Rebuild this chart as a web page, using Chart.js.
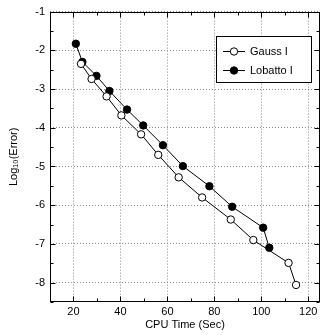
<!DOCTYPE html>
<html>
<head>
<meta charset="utf-8">
<script src="https://cdn.jsdelivr.net/npm/chart.js@4/dist/chart.umd.min.js"></script>
<style>
html,body{margin:0;padding:0;background:#fff;}
canvas{display:block;}
</style>
</head>
<body>
<canvas id="c" width="325" height="335"></canvas>
<script>
const seriesNames = ["Gauss I", "Lobatto I"];
const gaussX = [23.2, 27.7, 34.1, 40.4, 48.8, 56.1, 64.8, 74.8, 87.0, 96.6, 111.6, 114.8];
const gaussY = [-2.35, -2.74, -3.19, -3.68, -4.17, -4.70, -5.28, -5.80, -6.37, -6.90, -7.49, -8.06];
const lobattoX = [21.0, 23.8, 29.8, 35.3, 42.8, 49.7, 58.1, 66.6, 77.9, 87.6, 100.8, 103.4];
const lobattoY = [-1.83, -2.30, -2.66, -3.05, -3.53, -3.94, -4.45, -4.99, -5.51, -6.04, -6.58, -7.10];
const xTicks = [20, 40, 60, 80, 100, 120];
const xMinorTicks = [30, 50, 70, 90, 110];
const yTicks = [-1, -2, -3, -4, -5, -6, -7, -8];
const yMinorTicks = [-1.5, -2.5, -3.5, -4.5, -5.5, -6.5, -7.5, -8.5];
const xTitle = "CPU Time (Sec)";
const yTitle = "Log\u2081\u2080(Error)";

const FONT = "'Liberation Sans', Arial, Helvetica, sans-serif";

const toPts = (xs, ys) => xs.map((x, i) => ({x: x, y: ys[i]}));

const framePlugin = {
  id: 'frame',
  afterDatasetsDraw(chart) {
    const {ctx, chartArea: a, scales: {x, y}} = chart;
    ctx.save();
    ctx.strokeStyle = '#000';
    ctx.lineWidth = 1;
    ctx.setLineDash([]);
    ctx.beginPath();
    const L = Math.round(a.left) + 0.5, R = Math.round(a.right) - 0.5;
    const T = Math.round(a.top) + 0.5, B = Math.round(a.bottom) - 0.5;
    const tick = (v, len, horiz) => {
      if (horiz) {
        const p = Math.round(x.getPixelForValue(v)) + 0.5;
        ctx.moveTo(p, B); ctx.lineTo(p, B - len);
        ctx.moveTo(p, T); ctx.lineTo(p, T + len);
      } else {
        const p = Math.round(y.getPixelForValue(v)) + 0.5;
        ctx.moveTo(L, p); ctx.lineTo(L + len, p);
        ctx.moveTo(R, p); ctx.lineTo(R - len, p);
      }
    };
    xTicks.forEach(v => tick(v, 5, true));
    xMinorTicks.forEach(v => tick(v, 3, true));
    yTicks.forEach(v => tick(v, 5, false));
    yMinorTicks.forEach(v => tick(v, 3, false));
    ctx.stroke();
    ctx.strokeRect(L, T, R - L, B - T);
    ctx.restore();
  }
};

const legendPlugin = {
  id: 'boxLegend',
  afterDatasetsDraw(chart) {
    const {ctx} = chart;
    const bx = 216.5, by = 36.5, bw = 95, bh = 46;
    ctx.save();
    ctx.fillStyle = '#fff';
    ctx.fillRect(bx, by, bw, bh);
    ctx.strokeStyle = '#000';
    ctx.lineWidth = 1;
    ctx.setLineDash([]);
    ctx.strokeRect(bx, by, bw, bh);
    chart.data.datasets.forEach((ds, i) => {
      const yy = 51.5 + i * 19;
      ctx.beginPath();
      ctx.strokeStyle = ds.borderColor;
      ctx.lineWidth = 1;
      ctx.moveTo(223, yy); ctx.lineTo(245, yy);
      ctx.stroke();
      ctx.beginPath();
      ctx.arc(234, yy, 3.7, 0, Math.PI * 2);
      ctx.fillStyle = ds.pointBackgroundColor;
      ctx.fill();
      ctx.strokeStyle = ds.pointBorderColor;
      ctx.stroke();
      ctx.fillStyle = '#000';
      ctx.font = '11px ' + FONT;
      ctx.textAlign = 'left';
      ctx.textBaseline = 'middle';
      ctx.fillText(ds.label, 250, yy + 0.5);
    });
    ctx.restore();
  }
};

new Chart(document.getElementById('c'), {
  type: 'scatter',
  data: {
    datasets: [
      {
        label: seriesNames[0],
        data: toPts(gaussX, gaussY),
        showLine: true,
        borderColor: '#000',
        borderWidth: 1,
        pointRadius: 3.7,
        pointBackgroundColor: '#fff',
        pointBorderColor: '#000',
        pointBorderWidth: 1
      },
      {
        label: seriesNames[1],
        data: toPts(lobattoX, lobattoY),
        showLine: true,
        borderColor: '#000',
        borderWidth: 1,
        pointRadius: 3.7,
        pointBackgroundColor: '#000',
        pointBorderColor: '#000',
        pointBorderWidth: 1
      }
    ]
  },
  options: {
    responsive: false,
    animation: false,
    devicePixelRatio: 1,
    layout: {padding: {top: 11, right: 2, left: 0, bottom: 0}},
    plugins: {legend: {display: false}, tooltip: {enabled: false}},
    scales: {
      x: {
        type: 'linear',
        min: 10, max: 125,
        afterBuildTicks: s => { s.ticks = xTicks.map(v => ({value: v})); },
        afterFit: s => { s.height = 33; },
        grid: {color: '#8a8a8a', lineWidth: 1, drawTicks: false},
        border: {display: false, dash: [1, 2]},
        ticks: {color: '#000', padding: 3, font: {family: FONT, size: 11}, maxRotation: 0},
        title: {display: true, text: xTitle, color: '#000', font: {family: FONT, size: 11}, padding: {top: 0, bottom: 3}}
      },
      y: {
        type: 'linear',
        min: -8.5, max: -1,
        afterBuildTicks: s => { s.ticks = yTicks.map(v => ({value: v})); },
        afterFit: s => { s.width = 50; },
        grid: {color: '#8a8a8a', lineWidth: 1, drawTicks: false},
        border: {display: false, dash: [1, 2]},
        ticks: {color: '#000', padding: 5, font: {family: FONT, size: 11}},
        title: {display: true, text: yTitle, color: '#000', font: {family: FONT, size: 11}, padding: {top: 7, bottom: 0}}
      }
    }
  },
  plugins: [framePlugin, legendPlugin]
});
</script>
</body>
</html>
